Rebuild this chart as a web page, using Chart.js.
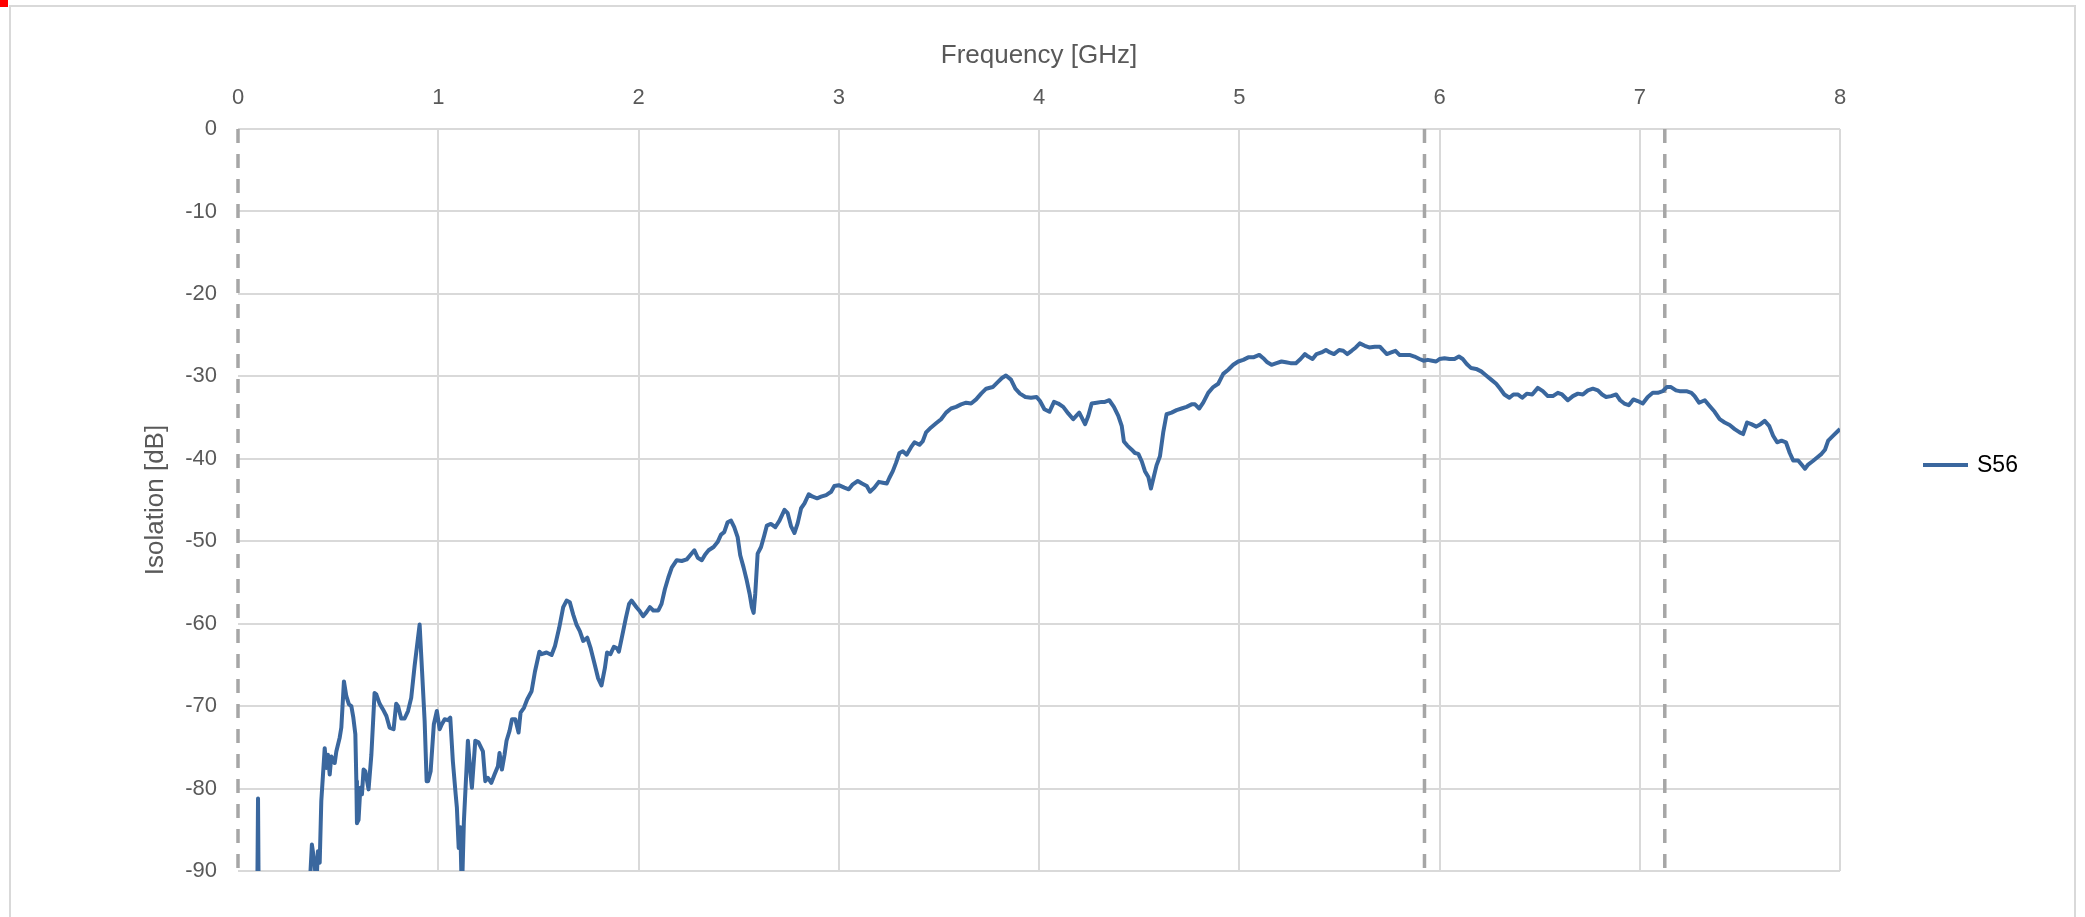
<!DOCTYPE html>
<html>
<head>
<meta charset="utf-8">
<script src="https://cdn.jsdelivr.net/npm/chart.js@4.4.1/dist/chart.umd.min.js"></script>
<style>
  html, body { margin: 0; padding: 0; background: #fff; }
  #wrap { position: relative; width: 2085px; height: 917px; overflow: hidden; }
  #frame { position: absolute; left: 9px; top: 5px; width: 2067px; height: 960px; border: 2px solid #d9d9d9; box-sizing: border-box; }
  #mark { position: absolute; left: 0; top: 0; width: 8px; height: 7px; background: #ff0000; }
  canvas { position: absolute; left: 0; top: 0; }
</style>
</head>
<body>
<div id="wrap">
  <div id="frame"></div>
  <div id="mark"></div>
  <canvas id="chart" width="2085" height="917"></canvas>
</div>
<script>
// S56 isolation trace, frequency in GHz, values in dB (< -90 is off the plot)
const freq = [
  0.00, 0.05, 0.094, 0.100, 0.105, 0.20, 0.30, 0.345, 0.369, 0.383, 0.391, 0.399, 0.408, 0.416, 0.433, 0.441,
  0.449, 0.458, 0.466, 0.483, 0.491, 0.508, 0.516, 0.529, 0.541, 0.554, 0.566, 0.576, 0.586, 0.591, 0.594, 0.602,
  0.611, 0.619, 0.627, 0.636, 0.652, 0.666, 0.682, 0.691, 0.707, 0.724, 0.741, 0.757, 0.777, 0.790, 0.799, 0.815,
  0.832, 0.849, 0.865, 0.882, 0.907, 0.919, 0.932, 0.942, 0.949, 0.962, 0.978, 0.993, 1.007, 1.018, 1.032, 1.048,
  1.060, 1.073, 1.087, 1.093, 1.102, 1.110, 1.118, 1.128, 1.148, 1.160, 1.168, 1.185, 1.201, 1.223, 1.235, 1.248,
  1.265, 1.281, 1.298, 1.306, 1.318, 1.331, 1.341, 1.356, 1.368, 1.385, 1.401, 1.411, 1.428, 1.444, 1.466, 1.483,
  1.505, 1.516, 1.541, 1.566, 1.583, 1.604, 1.624, 1.641, 1.657, 1.674, 1.690, 1.707, 1.724, 1.744, 1.760, 1.782,
  1.798, 1.815, 1.832, 1.843, 1.860, 1.877, 1.893, 1.902, 1.920, 1.937, 1.953, 1.965, 1.990, 2.007, 2.023, 2.040,
  2.057, 2.074, 2.099, 2.115, 2.132, 2.149, 2.166, 2.191, 2.216, 2.241, 2.258, 2.279, 2.296, 2.316, 2.333, 2.350,
  2.375, 2.395, 2.412, 2.428, 2.445, 2.462, 2.478, 2.495, 2.508, 2.525, 2.541, 2.555, 2.566, 2.575, 2.583, 2.595,
  2.612, 2.628, 2.641, 2.661, 2.683, 2.704, 2.729, 2.745, 2.762, 2.779, 2.795, 2.812, 2.829, 2.850, 2.870, 2.892,
  2.912, 2.937, 2.962, 2.978, 3.000, 3.028, 3.050, 3.070, 3.095, 3.116, 3.140, 3.156, 3.178, 3.200, 3.220, 3.240,
  3.253, 3.270, 3.286, 3.303, 3.320, 3.339, 3.361, 3.378, 3.403, 3.419, 3.436, 3.461, 3.486, 3.511, 3.536, 3.561,
  3.586, 3.611, 3.636, 3.661, 3.686, 3.711, 3.736, 3.769, 3.794, 3.815, 3.835, 3.860, 3.882, 3.905, 3.932, 3.960,
  3.988, 4.005, 4.027, 4.052, 4.075, 4.096, 4.121, 4.146, 4.171, 4.201, 4.230, 4.246, 4.263, 4.288, 4.313, 4.329,
  4.351, 4.374, 4.396, 4.413, 4.424, 4.441, 4.463, 4.479, 4.496, 4.513, 4.529, 4.546, 4.559, 4.571, 4.587, 4.604,
  4.621, 4.637, 4.662, 4.687, 4.712, 4.737, 4.762, 4.779, 4.800, 4.820, 4.845, 4.870, 4.895, 4.920, 4.945, 4.970,
  4.995, 5.020, 5.045, 5.070, 5.100, 5.120, 5.140, 5.161, 5.186, 5.211, 5.233, 5.256, 5.283, 5.306, 5.328, 5.344,
  5.366, 5.386, 5.411, 5.433, 5.453, 5.473, 5.499, 5.519, 5.539, 5.561, 5.582, 5.602, 5.627, 5.649, 5.677, 5.702,
  5.717, 5.737, 5.759, 5.780, 5.800, 5.825, 5.850, 5.875, 5.900, 5.920, 5.942, 5.963, 5.983, 6.000, 6.025, 6.050,
  6.075, 6.097, 6.116, 6.136, 6.158, 6.183, 6.208, 6.233, 6.258, 6.283, 6.303, 6.324, 6.349, 6.369, 6.391, 6.413,
  6.436, 6.463, 6.491, 6.516, 6.541, 6.566, 6.591, 6.612, 6.641, 6.666, 6.691, 6.716, 6.741, 6.766, 6.791, 6.812,
  6.832, 6.857, 6.882, 6.902, 6.923, 6.945, 6.968, 6.990, 7.015, 7.040, 7.065, 7.090, 7.115, 7.135, 7.156, 7.181,
  7.199, 7.233, 7.258, 7.274, 7.296, 7.325, 7.349, 7.374, 7.399, 7.424, 7.449, 7.474, 7.499, 7.516, 7.536, 7.557,
  7.582, 7.603, 7.624, 7.646, 7.666, 7.686, 7.708, 7.730, 7.749, 7.766, 7.791, 7.808, 7.825, 7.841, 7.863, 7.883,
  7.908, 7.925, 7.941, 7.966, 7.991, 8.000
];
const s56 = [
  -100, -100, -100, -81.2, -100, -100, -100, -98, -86.8, -89.2, -92, -87.6, -89.0, -81.5, -75.1, -77.5,
  -75.9, -78.3, -76.1, -76.9, -75.5, -73.8, -72.6, -67.0, -68.8, -69.8, -70.0, -71.4, -73.4, -79.1, -84.2, -83.8,
  -79.9, -80.7, -77.7, -77.9, -80.1, -75.9, -68.4, -68.6, -69.7, -70.4, -71.2, -72.6, -72.8, -69.7, -70.0, -71.5,
  -71.5, -70.6, -69.0, -65.1, -60.1, -65.7, -71.8, -79.1, -79.1, -77.9, -72.2, -70.6, -72.8, -72.2, -71.6, -71.7,
  -71.4, -76.7, -80.7, -82.3, -87.2, -84.7, -93.0, -84.0, -74.2, -77.9, -79.9, -74.2, -74.4, -75.5, -79.1, -78.7,
  -79.3, -78.3, -77.3, -75.7, -77.7, -75.9, -74.2, -73.0, -71.6, -71.6, -73.2, -70.8, -70.2, -69.2, -68.2, -65.8,
  -63.4, -63.7, -63.5, -63.8, -62.7, -60.5, -58.0, -57.2, -57.4, -58.9, -60.1, -60.9, -62.1, -61.7, -62.9, -65.0,
  -66.6, -67.5, -65.4, -63.5, -63.7, -62.8, -63.0, -63.4, -61.3, -59.3, -57.6, -57.2, -58.0, -58.5, -59.1, -58.6,
  -58.0, -58.4, -58.4, -57.6, -55.8, -54.4, -53.2, -52.3, -52.4, -52.2, -51.7, -51.1, -52.0, -52.3, -51.6, -51.1,
  -50.7, -50.1, -49.2, -48.9, -47.7, -47.5, -48.3, -49.5, -51.7, -53.2, -54.8, -56.4, -58.0, -58.7, -56.4, -51.5,
  -50.7, -49.3, -48.1, -47.9, -48.3, -47.5, -46.2, -46.6, -48.2, -49.0, -47.8, -46.0, -45.4, -44.3, -44.6, -44.8,
  -44.6, -44.4, -44.0, -43.3, -43.2, -43.5, -43.7, -43.1, -42.7, -43.0, -43.3, -44.0, -43.5, -42.8, -42.9, -43.0,
  -42.3, -41.5, -40.5, -39.3, -39.1, -39.5, -38.6, -38.0, -38.3, -37.9, -36.8, -36.2, -35.7, -35.2, -34.4, -33.9,
  -33.7, -33.4, -33.2, -33.3, -32.8, -32.1, -31.5, -31.3, -30.7, -30.2, -29.9, -30.4, -31.5, -32.1, -32.5, -32.6,
  -32.5, -33.0, -34.0, -34.3, -33.1, -33.3, -33.7, -34.5, -35.2, -34.4, -35.8, -34.8, -33.3, -33.2, -33.1, -33.1,
  -32.9, -33.7, -34.8, -36.0, -37.9, -38.4, -38.9, -39.3, -39.4, -40.3, -41.5, -42.2, -43.6, -42.4, -40.8, -39.7,
  -36.7, -34.6, -34.4, -34.1, -33.9, -33.7, -33.4, -33.4, -33.9, -33.2, -32.0, -31.3, -30.9, -29.7, -29.2, -28.6,
  -28.2, -28.0, -27.7, -27.7, -27.4, -27.8, -28.3, -28.6, -28.4, -28.2, -28.3, -28.4, -28.4, -27.9, -27.3, -27.6,
  -27.9, -27.3, -27.1, -26.8, -27.1, -27.3, -26.8, -26.9, -27.3, -26.9, -26.5, -26.0, -26.3, -26.5, -26.4, -26.4,
  -26.8, -27.3, -27.1, -26.9, -27.4, -27.4, -27.4, -27.6, -27.9, -28.1, -28.0, -28.1, -28.2, -27.9, -27.8, -27.9,
  -27.9, -27.6, -27.9, -28.5, -29.0, -29.1, -29.4, -29.9, -30.4, -30.9, -31.5, -32.2, -32.6, -32.2, -32.2, -32.6,
  -32.1, -32.2, -31.4, -31.8, -32.4, -32.4, -32.0, -32.2, -32.9, -32.4, -32.1, -32.2, -31.7, -31.5, -31.7, -32.2,
  -32.5, -32.4, -32.2, -32.9, -33.3, -33.5, -32.8, -33.0, -33.3, -32.5, -32.0, -32.0, -31.8, -31.3, -31.3, -31.7,
  -31.8, -31.8, -32.0, -32.4, -33.2, -32.9, -33.6, -34.3, -35.2, -35.6, -35.9, -36.4, -36.8, -37.0, -35.6, -35.8,
  -36.1, -35.8, -35.4, -36.0, -37.2, -38.0, -37.8, -38.0, -39.3, -40.2, -40.2, -40.7, -41.2, -40.7, -40.3, -39.9,
  -39.4, -38.9, -37.8, -37.2, -36.6, -36.4
];
// band edge markers (GHz)
const markers = [0, 5.925, 7.125];
const xTicks = [0, 1, 2, 3, 4, 5, 6, 7, 8];
const yTicks = [0, -10, -20, -30, -40, -50, -60, -70, -80, -90];

const FONT = "'Liberation Sans', Arial, sans-serif";
const LINE_COLOR = '#3a679e';

const datasets = [{
  label: 'S56',
  data: freq.map((f, i) => ({ x: f, y: s56[i] })),
  borderColor: LINE_COLOR,
  borderWidth: 4,
  borderJoinStyle: 'round',
  pointRadius: 0,
  tension: 0,
  clip: 0,
  order: 0
}];
markers.forEach(m => {
  datasets.push({
    label: 'marker',
    data: [{ x: m, y: 0 }, { x: m, y: -90 }],
    borderColor: '#a6a6a6',
    borderWidth: 3.5,
    borderDash: [14, 11],
    pointRadius: 0,
    clip: 4,
    order: 1
  });
});

// legend drawn at the right, as in the original
const legendPlugin = {
  id: 'sideLegend',
  afterDraw(chart) {
    const c = chart.ctx;
    c.save();
    c.strokeStyle = LINE_COLOR;
    c.lineWidth = 4;
    c.beginPath();
    c.moveTo(1923, 465);
    c.lineTo(1968, 465);
    c.stroke();
    c.fillStyle = '#000';
    c.font = '23px ' + FONT;
    c.textBaseline = 'middle';
    c.fillText('S56', 1977, 466);
    c.restore();
  }
};

new Chart(document.getElementById('chart'), {
  type: 'scatter',
  data: { datasets },
  plugins: [legendPlugin],
  options: {
    responsive: false,
    animation: false,
    showLine: true,
    layout: { padding: { left: 120, top: 20, right: 245, bottom: 46 } },
    plugins: { legend: { display: false }, tooltip: { enabled: false } },
    scales: {
      x: {
        type: 'linear',
        position: 'top',
        min: 0, max: 8,
        afterBuildTicks: s => { s.ticks = xTicks.map(v => ({ value: v })); },
        afterFit: s => { s.height = 109; },
        ticks: { color: '#595959', font: { family: FONT, size: 22 }, padding: 18 },
        grid: {
          drawTicks: false,
          lineWidth: 2,
          color: ctx => (ctx.tick && ctx.tick.value === 0) ? 'rgba(0,0,0,0)' : '#d9d9d9'
        },
        border: { display: false },
        title: {
          display: true, text: 'Frequency [GHz]', color: '#595959',
          font: { family: FONT, size: 26, lineHeight: 1.2 }, padding: { top: 20, bottom: 0 }
        }
      },
      y: {
        type: 'linear',
        min: -90, max: 0,
        afterBuildTicks: s => { s.ticks = yTicks.map(v => ({ value: v })); },
        afterFit: s => { s.width = 118; },
        ticks: { color: '#595959', font: { family: FONT, size: 22 }, padding: 21 },
        grid: { drawTicks: false, lineWidth: 2, color: '#d9d9d9' },
        border: { display: false },
        title: {
          display: true, text: 'Isolation [dB]', color: '#595959',
          font: { family: FONT, size: 26, lineHeight: 1.2 }, padding: { top: 20, bottom: 0 }
        }
      }
    }
  }
});
</script>
</body>
</html>
